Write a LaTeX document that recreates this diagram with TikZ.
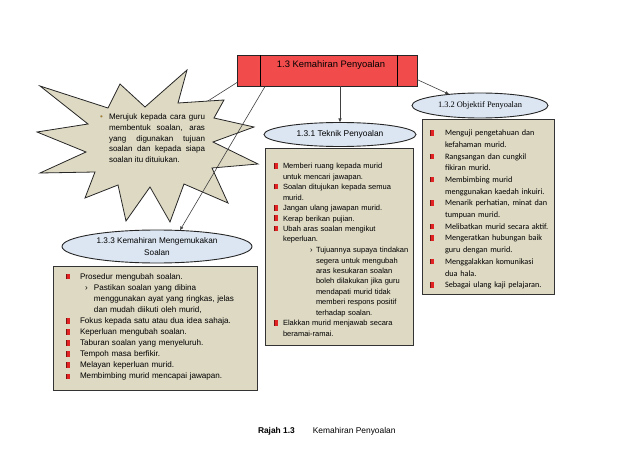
\documentclass[tikz,border=0pt]{standalone}
\usepackage{fontspec}
\setmainfont{Liberation Sans}
\newfontfamily\calibri{Carlito}
\newfontfamily\timesf{Liberation Serif}
\usetikzlibrary{shapes.geometric,arrows.meta,positioning}

\definecolor{boxred}{RGB}{242,75,75}
\definecolor{paper}{RGB}{221,217,195}
\definecolor{sky}{RGB}{220,230,242}
\definecolor{bulred}{RGB}{225,35,35}
\definecolor{bulolive}{RGB}{160,130,60}

% bullets for the lists
\newcommand\rbul{{\color{bulred!55!black}\rule{1.3pt}{5.5pt}}{\color{bulred}\rule{2.4pt}{5.5pt}}}
\newcommand\bitem[1]{\par\noindent\hangindent=#1\hangafter=1\makebox[#1][l]{\rbul}\ignorespaces}
\newcommand\sitem[2]{\par\noindent\hangindent=#2\hangafter=1\hspace*{#1}\makebox[\dimexpr#2-#1\relax][l]{›}\ignorespaces}

\begin{document}
\begin{tikzpicture}[x=1pt,y=-1pt,
        every node/.style={inner sep=0pt, outer sep=0pt},
        linkline/.style={draw=black!75, line width=0.6pt},
        linkarrow/.style={linkline, -{Latex[length=4pt,width=3.5pt]}},
        headbox/.style={draw=black!85, line width=0.8pt, fill=boxred, minimum width=180, minimum height=31},
        topic/.style={ellipse, draw=black!85, line width=0.9pt, fill=sky, align=center, font=\fontsize{8.4}{12}\selectfont},
        paperbox/.style={rectangle, draw=black!80, line width=1pt, fill=paper, anchor=north west},
        listtext/.style={anchor=north west, align=left},
        burst/.style={draw=black!85, line width=0.8pt, fill=paper, line join=miter}
        ]
        \useasboundingbox (0,0) rectangle (638,452);

        % heading box
        \node[headbox] (head) at (327,71) {};
        \draw[line width=0.8pt] ([xshift=23]head.north west) -- ([xshift=23]head.south west);
        \draw[line width=0.8pt] ([xshift=-20]head.north east) -- ([xshift=-20]head.south east);
        \node[font=\fontsize{9.4}{11}\selectfont] (headlbl) at (331,65) {1.3 Kemahiran Penyoalan};

        % line into the starburst (hidden behind it)
        \coordinate (burstin) at (200,106);
        \draw[linkline] ([yshift=4]head.south west) -- (burstin);

        % starburst
        \draw[burst] (187,70) -- (178,103) -- (224,100) -- (214,118) -- (254,127) -- (213,142)
          -- (258,164) -- (212,168) -- (228,203) -- (184,184) -- (170,222) -- (150,187)
          -- (126,221) -- (118,185) -- (85,198) -- (95,172) -- (40,173) -- (86,152)
          -- (37,132) -- (88,124) -- (40,86) -- (108,108) -- (120,84) -- (145,107) -- cycle;
        \node[anchor=north west, text width=96, align=justify, font=\fontsize{8}{10.7}\selectfont] (bursttxt) at (109,114)
          {\llap{\textcolor{bulolive}{\textbullet}\hspace{6pt}}Merujuk kepada cara guru\linebreak
           membentuk soalan, aras\linebreak yang digunakan tujuan\linebreak
           soalan dan kepada siapa\linebreak soalan itu dituiukan.};

        % boxes
        \node[paperbox, minimum width=148, minimum height=197] (techbox) at (265,148) {};
        \node[paperbox, minimum width=132, minimum height=174] (objbox) at (422,120) {};
        \node[paperbox, minimum width=204, minimum height=124] (skillbox) at (53,266) {};

        % topics
        \node[topic, minimum width=152, minimum height=24] (tech) at (340,134.5) {1.3.1 Teknik Penyoalan};
        \node[topic, minimum width=136, minimum height=25, font=\timesf\fontsize{8.4}{10}\selectfont] (obj) at (480,105.5) {1.3.2 Objektif Penyoalan};
        \node[topic, minimum width=190, minimum height=33, font=\fontsize{8.2}{12}\selectfont] (skill) at (157,246.5) {1.3.3 Kemahiran Mengemukakan\\Soalan};

        % arrows
        \draw[linkarrow] ([xshift=28]head.south west) -- (skill.35);
        \draw[linkarrow] (head.south -| tech.north) -- (tech.north);
        \draw[linkarrow] ([yshift=7]head.south east) -- (obj.160);

        % lists
        \node[listtext, text width=139, font=\fontsize{7.5}{10.5}\selectfont] (techlist) at (274,158) {%
          \bitem{9pt}Memberi ruang kepada murid\newline untuk mencari jawapan.
          \bitem{9pt}Soalan ditujukan kepada semua\newline murid.
          \bitem{9pt}Jangan ulang jawapan murid.
          \bitem{9pt}Kerap berikan pujian.
          \bitem{9pt}Ubah aras soalan mengikut\newline keperluan.
          \sitem{36pt}{42pt}Tujuannya supaya tindakan\newline segera untuk mengubah\newline aras kesukaran soalan\newline
            boleh dilakukan jika guru\newline mendapati murid tidak\newline memberi respons positif\newline terhadap soalan.
          \bitem{9pt}Elakkan murid menjawab secara\newline beramai-ramai.\par};
        \node[listtext, text width=124, font=\calibri\fontsize{8.2}{11.7}\selectfont] (objlist) at (430,124) {%
          \bitem{15pt}Menguji pengetahuan dan\newline kefahaman murid.
          \bitem{15pt}Rangsangan dan cungkil\newline fikiran murid.
          \bitem{15pt}Membimbing murid\newline menggunakan kaedah inkuiri.
          \bitem{15pt}Menarik perhatian, minat dan\newline tumpuan murid.
          \bitem{15pt}Melibatkan murid secara aktif.
          \bitem{15pt}Mengeratkan hubungan baik\newline guru dengan murid.
          \bitem{15pt}Menggalakkan komunikasi\newline dua hala.
          \bitem{15pt}Sebagai ulang kaji pelajaran.\par};
        \node[listtext, text width=188, font=\fontsize{8.1}{11.1}\selectfont] (skilllist) at (66,268) {%
          \bitem{14pt}Prosedur mengubah soalan.
          \sitem{19pt}{28pt}Pastikan soalan yang dibina\newline menggunakan ayat yang ringkas, jelas\newline dan mudah diikuti oleh murid,
          \bitem{14pt}Fokus kepada satu atau dua idea sahaja.
          \bitem{14pt}Keperluan mengubah soalan.
          \bitem{14pt}Taburan soalan yang menyeluruh.
          \bitem{14pt}Tempoh masa berfikir.
          \bitem{14pt}Melayan keperluan murid.
          \bitem{14pt}Membimbing murid mencapai jawapan.\par};

        % caption
        \node[anchor=west, font=\bfseries\fontsize{8.4}{10}\selectfont] (capnum) at (258,431) {Rajah 1.3};
        \node[right=18pt of capnum, font=\fontsize{8.4}{10}\selectfont] (captxt) {Kemahiran Penyoalan};
\end{tikzpicture}
\end{document}
